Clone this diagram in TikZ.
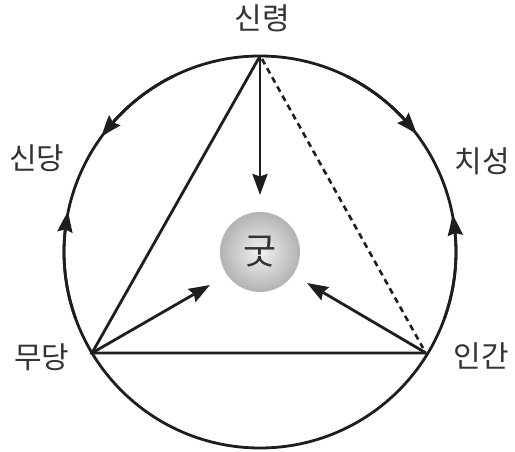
\documentclass[tikz,border=0pt]{standalone}
\usepackage{fontspec}
\newfontfamily\kr{Noto Sans CJK KR}
\usetikzlibrary{arrows.meta,bending}
\definecolor{ink}{HTML}{1E1E1E}
\definecolor{txt}{HTML}{333333}
\tikzset{
  edge/.style={draw=ink, line width=2.8pt},
  arr/.style={edge, -{Stealth[length=21pt,width=15pt,inset=2.5pt]}},
  carr/.style={edge, -{Stealth[length=21pt,width=15pt,inset=2.5pt,bend]}},
  lbl/.style={font=\kr\fontsize{30}{33}\selectfont, text=txt, inner sep=0pt},
  ball/.style={circle, minimum size=80pt, inner sep=0pt, shade, inner color=gray!10, outer color=gray!60, text=txt, font=\kr\fontsize{36}{38}\selectfont}
}
\begin{document}
\begin{tikzpicture}[x=1pt,y=1pt]
\useasboundingbox (0,0) rectangle (515,451);
\coordinate (C) at (260,199);
\coordinate (T) at (260,395);
\coordinate (M) at (92,98);
\coordinate (I) at (426,98);
% circle
\draw[edge] (C) circle[radius=196];
% circle arrows
\draw[carr] (C) ++(116:196) arc[start angle=116, end angle=144, radius=196];
\draw[carr] (C) ++(200:196) arc[start angle=200, end angle=168, radius=196];
\draw[carr] (C) ++(64:196) arc[start angle=64, end angle=37, radius=196];
\draw[carr] (C) ++(-20:196) arc[start angle=-20, end angle=11, radius=196];
% ball
\node[ball] (gut) at (C) {굿};
% triangle
\draw[edge] (T) -- (M) -- (I);
\draw[draw=ink, line width=2.6pt, dash pattern=on 6pt off 4.5pt] ([xshift=2pt,yshift=-3pt]T) -- ([xshift=-3pt,yshift=5pt]I);
% arrows toward ball
\coordinate (eT) at (260,256);
\coordinate (eM) at (210,166);
\coordinate (eI) at (307,168);
\draw[arr] (T) -- (eT);
\draw[arr] (M) -- (eM);
\draw[arr] (I) -- (eI);
% labels
\node[lbl] (sinryeong) at (262,433) {신령};
\node[lbl] (sindang) at (37,293) {신당};
\node[lbl] (chiseong) at (482,290) {치성};
\node[lbl] (mudang) at (42,94) {무당};
\node[lbl] (ingan) at (481,95) {인간};
\end{tikzpicture}
\end{document}
